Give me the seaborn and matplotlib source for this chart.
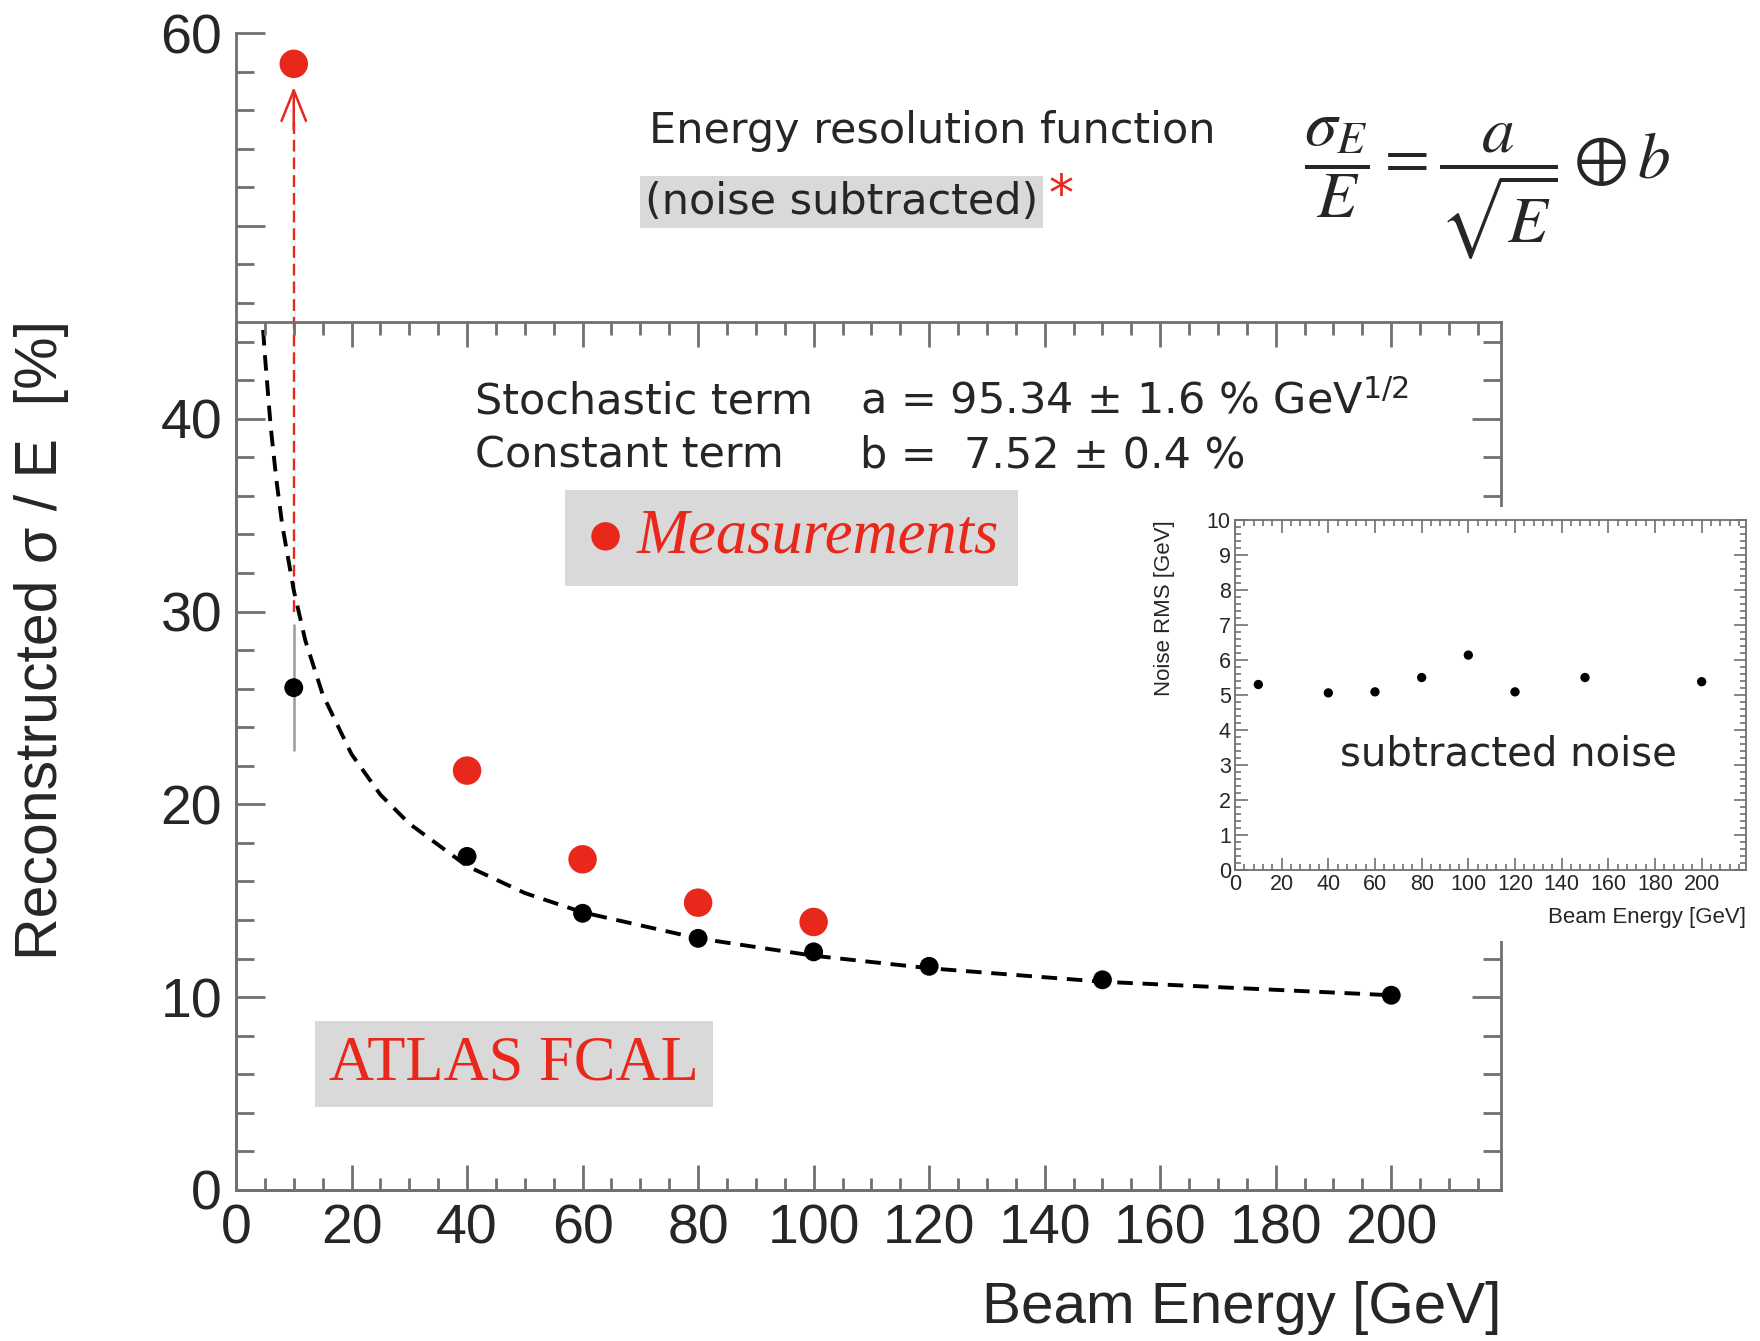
import matplotlib
matplotlib.use('Agg')
import matplotlib.pyplot as plt
import seaborn as sns
from matplotlib.patches import Rectangle
from matplotlib.ticker import MultipleLocator

# noise-subtracted resolution (black points)
BEAM_ENERGY = [10, 40, 60, 80, 100, 120, 150, 200]
RESOLUTION = [26.05, 17.3, 14.35, 13.05, 12.35, 11.6, 10.9, 10.1]
RESOLUTION_ERR = [3.3, 0.25, 0.2, 0.15, 0.15, 0.15, 0.1, 0.1]

# raw measurements (red points)
MEAS_ENERGY = [10, 40, 60, 80, 100]
MEAS_RESOLUTION = [58.4, 21.75, 17.15, 14.9, 13.9]

# dashed fit curve
FIT_ENERGY = [4.7, 5, 6, 7, 8, 10, 12, 15, 20, 25, 30, 40, 50, 60, 80, 100, 120, 150, 200]
FIT_RESOLUTION = [44.6, 43.3, 39.6, 36.8, 34.5, 31.1, 28.5, 25.7, 22.6, 20.5, 19.0, 16.8,
                  15.4, 14.4, 13.05, 12.15, 11.5, 10.8, 10.1]

# inset: subtracted noise
NOISE_RMS = [5.30, 5.06, 5.09, 5.50, 6.14, 5.09, 5.50, 5.38]

X_TICKS = [0, 20, 40, 60, 80, 100, 120, 140, 160, 180, 200]
Y_TICKS = [0, 10, 20, 30, 40, 50, 60]
Y_TICK_LABELS = ['0', '10', '20', '30', '40', '', '60']
INSET_Y_TICKS = [0, 1, 2, 3, 4, 5, 6, 7, 8, 9, 10]

RED = '#e9281c'
GRAY = '#707070'
BOX = '#d9d9d9'
W, H = 1760, 1341


def fx(px):
    return px / W


def fy(py):
    return 1 - py / H


def main():
    sns.set_style('ticks')
    plt.rcParams['font.family'] = ['Liberation Sans', 'DejaVu Sans']
    plt.rcParams['mathtext.fontset'] = 'stix'

    fig = plt.figure(figsize=(W / 100, H / 100), dpi=100)
    left, right, bottom, top = 236, 1501, 1190, 33
    ax = fig.add_axes([fx(left), fy(bottom), (right - left) / W, (bottom - top) / H])
    frame = fig.add_axes([fx(left), fy(bottom), (right - left) / W, (bottom - top) / H * 45 / 60])
    frame.patch.set_alpha(0)

    # data
    sns.lineplot(x=FIT_ENERGY, y=FIT_RESOLUTION, ax=ax, color='black', lw=2.8,
                 linestyle=(0, (4, 2.5)), estimator=None, sort=False, zorder=3)
    ax.errorbar(BEAM_ENERGY, RESOLUTION, yerr=RESOLUTION_ERR, fmt='none', ecolor='#9a9a9a',
                elinewidth=1.8, capsize=0, zorder=3)
    sns.scatterplot(x=BEAM_ENERGY, y=RESOLUTION, ax=ax, color='black', s=185, edgecolor='none',
                    zorder=4)
    sns.scatterplot(x=MEAS_ENERGY, y=MEAS_RESOLUTION, ax=ax, color=RED, s=420, edgecolor='none',
                    label='Measurements', zorder=5)

    # red arrow from the 10 GeV point to its raw value
    ax.vlines(MEAS_ENERGY[0], 30.0, 55.5, colors=RED, linestyles=(0, (5, 2.5)), lw=1.7, zorder=2)
    ax.annotate('', xy=(MEAS_ENERGY[0], 57.2), xytext=(MEAS_ENERGY[0], 55.0),
                arrowprops=dict(arrowstyle='->,head_length=0.55,head_width=0.22', color=RED, lw=1.8,
                                mutation_scale=40, shrinkA=0, shrinkB=0))

    ax.set_xlim(0, 219)
    ax.set_ylim(0, 60)
    ax.set_xticks(X_TICKS)
    ax.set_yticks(Y_TICKS)
    ax.set_yticklabels(Y_TICK_LABELS)
    ax.xaxis.set_minor_locator(MultipleLocator(5))
    ax.yaxis.set_minor_locator(MultipleLocator(2))
    ax.tick_params(which='both', direction='in', color=GRAY, width=2, top=False, right=False,
                   labelsize=40, pad=10)
    ax.tick_params(axis='x', which='major', length=18)
    ax.tick_params(axis='x', which='minor', length=9)
    ax.tick_params(axis='y', which='major', length=21)
    ax.tick_params(axis='y', which='minor', length=13)
    for side in ['top', 'right']:
        ax.spines[side].set_visible(False)
    for side in ['left', 'bottom']:
        ax.spines[side].set_color(GRAY)
        ax.spines[side].set_linewidth(2)
    ax.set_xlabel('')
    ax.set_ylabel('')

    # frame box (0-45)
    frame.set_xlim(0, 219)
    frame.set_ylim(0, 45)
    frame.set_xticks(X_TICKS)
    frame.set_yticks([0, 10, 20, 30, 40])
    frame.xaxis.set_minor_locator(MultipleLocator(5))
    frame.yaxis.set_minor_locator(MultipleLocator(2))
    frame.tick_params(which='both', direction='in', color=GRAY, width=2, left=False, bottom=False,
                      top=True, right=True, labelleft=False, labelbottom=False)
    frame.tick_params(axis='x', which='major', length=18)
    frame.tick_params(axis='x', which='minor', length=9)
    frame.tick_params(axis='y', which='major', length=21)
    frame.tick_params(axis='y', which='minor', length=13)
    for side in frame.spines.values():
        side.set_color(GRAY)
        side.set_linewidth(2)

    # legend box
    leg = ax.legend(loc='upper left', bbox_to_anchor=(0.26, 0.605), frameon=True, fancybox=False,
                    facecolor=BOX, edgecolor='none', framealpha=1, labelcolor=RED,
                    prop=dict(family='Liberation Serif', style='italic', size=45),
                    handletextpad=0.15, borderpad=0.3, handlelength=0.7, borderaxespad=0)
    leg.set_zorder(6)

    # annotations
    comic = dict(family='DejaVu Sans', size=31, va='center', ha='left')
    fig.text(fx(649), fy(131), 'Energy resolution function', **comic)
    fig.text(fx(645), fy(202), '(noise subtracted)',
             bbox=dict(boxstyle='square,pad=0.12', fc=BOX, ec='none'), **comic)
    fig.text(fx(1048), fy(196), '*', family='DejaVu Sans', size=36, color=RED, va='center', ha='left')
    fig.text(fx(1487), fy(188), r'$\dfrac{\sigma_E}{E} = \dfrac{a}{\sqrt{E}} \oplus b$',
             size=47, ha='center', va='center')
    fig.text(fx(475), fy(401), 'Stochastic term', **comic)
    fig.text(fx(860), fy(401), r'a = 95.34 ± 1.6 % GeV$^{\mathregular{1/2}}$', **comic)
    fig.text(fx(475), fy(456), 'Constant term', **comic)
    fig.text(fx(860), fy(456), 'b =  7.52 ± 0.4 %', **comic)
    fig.text(fx(514), fy(1064), 'ATLAS FCAL', family='Liberation Serif', size=45, color=RED,
             ha='center', va='center', bbox=dict(boxstyle='square,pad=0.22', fc=BOX, ec='none'))

    fig.text(fx(42), fy(320), 'Reconstructed σ / E  [%]', rotation=90, ha='center', va='top', size=42.5)
    fig.text(fx(1501), fy(1308), 'Beam Energy [GeV]', ha='right', va='center', size=42)

    # inset
    fig.add_artist(Rectangle((fx(1139), fy(941)), (1755 - 1139) / W, (941 - 507) / H,
                             transform=fig.transFigure, fc='white', ec='none', zorder=2))
    ax_in = fig.add_axes([fx(1235), fy(870), 511 / W, 350 / H])
    ax_in.set_zorder(3)
    sns.scatterplot(x=BEAM_ENERGY, y=NOISE_RMS, ax=ax_in, color='black', s=45, edgecolor='none')
    ax_in.set_xlim(0, 219)
    ax_in.set_ylim(0, 10)
    ax_in.set_xticks(X_TICKS)
    ax_in.set_yticks(INSET_Y_TICKS)
    ax_in.xaxis.set_minor_locator(MultipleLocator(4))
    ax_in.yaxis.set_minor_locator(MultipleLocator(0.2))
    ax_in.tick_params(which='both', direction='in', color=GRAY, width=1.2, top=True, right=True,
                      labelsize=15.5, pad=3)
    ax_in.tick_params(which='major', length=9)
    ax_in.tick_params(which='minor', length=4.5)
    for side in ax_in.spines.values():
        side.set_color(GRAY)
        side.set_linewidth(1.3)
    ax_in.set_xlabel('')
    ax_in.set_ylabel('')
    fig.text(fx(1164), fy(520), 'Noise RMS [GeV]', rotation=90, ha='center', va='top', size=16)
    fig.text(fx(1746), fy(918), 'Beam Energy [GeV]', ha='right', va='center', size=16)
    fig.text(fx(1508), fy(754), 'subtracted noise', family='DejaVu Sans', size=29,
             ha='center', va='center')

    fig.savefig('out.png', dpi=100, facecolor='white')


if __name__ == '__main__':
    main()
